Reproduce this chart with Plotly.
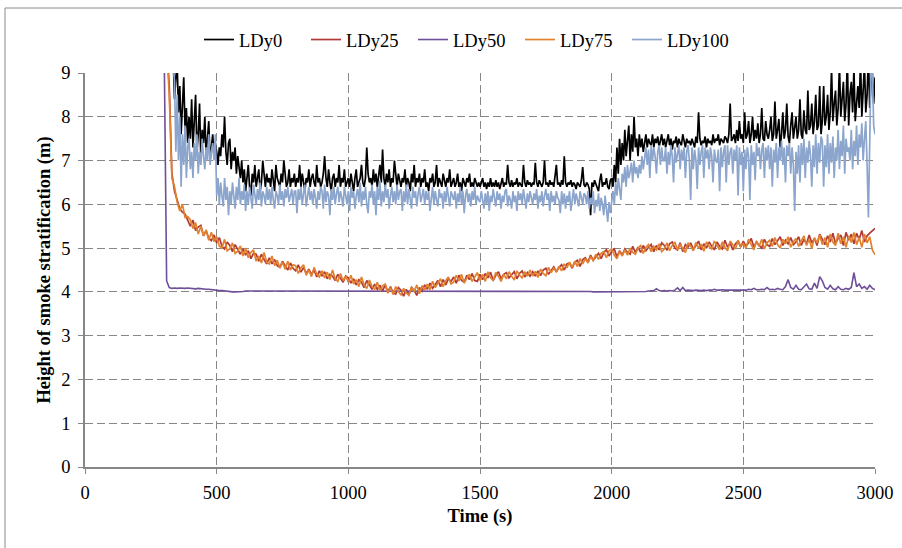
import plotly.graph_objects as go

# sample grids (s)
time_5s = list(range(300, 3001, 5))
time_10s = list(range(300, 3001, 10))

ldy0 = [
 9.9,9.9,9.8,9.8,9.7,9.6,9.5,9.3,8.4,8.9, 9.2,8.1,8.7,7.6,8.3,8.9,7.7,8.2,7.4,8.0,
 7.5,8.4,7.3,7.9,8.5,7.2,7.6,8.3,7.0,7.7, 7.4,8.0,7.1,7.5,7.9,7.0,7.3,7.6,7.1,7.4,
 7.2,6.9,7.3,7.1,7.6,7.3,8.0,7.2,6.9,7.4, 7.5,6.8,7.2,7.0,7.3,6.7,7.1,6.9,6.6,7.0,
 6.5,6.8,6.3,6.6,6.9,6.4,6.2,6.7,6.5,6.9, 6.4,6.6,6.8,6.3,6.5,7.0,6.6,6.4,6.7,6.5,
 6.6,6.4,6.8,6.5,6.3,6.9,6.6,6.5,6.4,6.7, 6.5,7.0,6.6,6.4,6.5,6.8,6.4,6.6,6.5,6.7,
 6.4,6.6,6.5,6.9,6.4,6.7,6.5,6.3,6.6,6.5, 6.8,6.4,6.6,6.7,6.5,6.4,6.9,6.5,6.6,6.4,
 6.5,6.7,7.1,6.6,6.4,6.8,6.5,6.3,6.6,6.7, 6.4,6.6,6.5,6.9,6.4,6.6,6.5,6.8,6.4,6.5,
 6.6,6.4,6.7,6.5,6.3,6.6,6.8,6.4,6.5,6.6, 6.9,6.5,6.4,6.6,7.3,6.7,6.5,6.6,6.4,6.8,
 6.5,6.7,6.4,6.6,6.9,6.5,7.25,6.6,6.4,6.7, 6.5,6.8,6.4,6.6,6.5,7.0,6.6,6.4,6.7,6.5,
 6.4,6.6,6.5,6.8,6.4,6.6,6.5,6.3,6.7,6.5, 6.9,6.4,6.6,6.5,6.7,6.4,6.6,6.5,6.8,6.4,
 6.5,6.3,6.6,6.5,6.7,6.4,6.5,6.9,6.4,6.6, 6.5,6.4,6.7,6.5,6.4,6.6,6.5,6.8,6.4,6.5,
 6.6,6.4,6.5,6.7,6.4,6.5,6.3,6.6,6.5,6.4, 6.6,6.5,6.7,6.4,6.5,6.4,6.6,6.5,6.4,6.5,
 6.4,6.5,6.6,6.4,6.5,6.35,6.5,6.4,6.6,6.4, 6.5,6.4,6.55,6.4,6.5,6.35,6.45,6.6,6.4,6.5,
 6.45,6.9,6.5,6.4,6.55,6.4,6.5,6.45,6.6,6.4, 6.5,6.45,6.4,6.9,6.5,6.4,6.55,6.45,6.5,6.4,
 6.5,6.45,6.95,6.5,6.4,6.55,6.45,6.4,6.5,7.0, 6.45,6.5,6.4,6.55,6.45,6.5,6.4,6.6,6.9,6.45,
 6.5,6.4,6.55,6.45,7.1,6.5,6.4,6.5,6.45,6.55, 6.4,6.5,6.45,6.35,6.5,6.45,6.4,6.55,6.85,6.45,
 6.4,6.5,6.45,6.35,5.75,6.5,6.4,6.55,6.45,6.4, 6.3,6.55,6.7,6.4,6.5,6.45,6.6,6.4,6.35,6.55,
 6.6,6.4,6.9,6.5,7.3,6.7,7.5,6.9,7.4,7.0, 7.7,7.1,7.5,7.8,7.0,7.6,7.2,8.0,7.3,7.5,
 7.1,7.6,7.3,7.5,7.2,7.4,7.6,7.3,7.5,7.4, 7.35,7.6,7.3,7.5,7.4,7.55,7.3,7.45,7.6,7.35,
 7.5,7.3,7.45,7.6,7.35,7.5,7.25,7.45,7.4,7.55, 7.3,7.5,7.4,7.35,7.6,7.45,7.3,7.5,7.4,7.45,
 7.35,7.5,7.4,7.3,7.55,7.4,8.1,7.5,7.35,7.45, 7.4,7.55,7.3,7.5,7.4,7.45,7.35,7.6,7.4,7.5,
 7.45,7.6,7.35,7.5,7.45,7.4,7.55,7.5,7.4,7.6, 8.3,7.45,7.5,7.6,7.4,7.7,7.45,7.9,7.5,7.6,
 7.4,8.1,7.5,7.6,7.9,7.4,7.6,8.0,7.45,7.7, 7.5,7.85,7.4,7.6,8.2,7.5,7.45,7.9,7.6,7.5,
 7.7,8.0,7.45,7.6,8.35,7.5,7.7,7.95,7.3,7.6, 8.1,7.5,7.7,8.3,7.55,7.4,7.8,8.1,7.5,7.7,
 8.0,7.5,7.7,8.4,7.6,7.5,8.15,7.7,7.6,8.6, 7.7,7.8,8.3,7.6,7.9,8.5,7.7,7.8,8.7,7.6,
 7.9,8.7,7.8,8.0,8.5,7.7,8.1,9.1,7.9,8.3, 8.6,7.8,8.2,9.2,8.0,8.4,8.8,7.9,8.3,9.3,
 7.8,8.5,8.8,8.1,9.1,7.9,8.4,8.7,8.2,9.3, 8.0,8.6,9.2,8.1,8.5,9.4,8.2,8.8,9.0,8.3,
 8.9,
]

ldy100 = [
 9.9,9.9,9.8,9.8,9.7,9.6,9.4,9.2,8.8,7.2, 8.5,7.0,8.0,6.4,7.6,6.9,7.8,6.6,7.3,7.5,
 6.8,7.2,6.6,7.4,7.0,7.6,6.7,7.2,6.9,7.5, 7.1,6.8,7.3,7.0,7.6,6.9,7.2,7.4,7.0,7.6,
 6.2,6.6,6.0,6.5,6.2,5.95,6.6,6.1,6.4,5.75, 6.3,6.0,6.5,6.2,5.9,6.4,6.1,6.6,6.0,6.3,
 6.1,6.45,5.85,6.3,6.0,6.4,6.15,5.9,6.45,6.2, 6.0,6.35,6.1,6.5,5.95,6.3,6.2,6.0,6.4,6.1,
 6.35,6.0,6.4,6.1,5.9,6.3,6.2,6.0,6.45,6.1, 6.3,5.95,6.35,6.15,6.4,6.05,6.2,6.35,6.0,6.3,
 6.3,5.8,6.35,6.1,6.4,6.0,6.25,6.45,5.95,6.2, 6.4,6.1,6.3,6.0,6.35,6.15,5.9,6.3,6.1,6.4,
 6.3,5.9,6.45,6.05,6.3,6.2,5.75,6.35,6.1,6.4, 6.0,6.25,6.4,6.05,6.3,6.15,5.95,6.4,6.2,6.0,
 6.3,5.85,6.4,6.15,6.3,5.9,6.2,6.35,6.05,6.5, 5.95,6.3,6.1,6.4,6.0,5.8,6.3,6.15,6.45,6.0,
 6.3,5.75,6.4,6.1,6.55,5.95,6.3,6.05,6.45,6.15, 6.35,5.9,6.2,6.4,6.05,6.3,6.0,6.45,6.1,6.3,
 6.35,5.85,6.3,6.05,6.45,6.0,6.35,6.1,5.9,6.4, 6.15,6.3,5.95,6.25,6.4,6.05,6.2,6.35,6.0,6.3,
 6.1,6.3,5.85,6.2,6.4,6.0,6.3,6.1,5.95,6.35, 6.15,6.25,5.9,6.3,6.05,6.4,6.1,5.95,6.3,6.2,
 6.1,6.3,5.9,6.25,6.05,6.4,6.0,6.3,5.8,6.2, 6.35,6.05,6.25,5.95,6.3,6.1,6.4,6.0,6.2,6.1,
 6.05,6.3,6.1,5.9,6.25,6.0,6.3,5.85,6.2,6.05, 6.35,6.15,5.95,6.3,6.1,6.25,5.9,6.2,6.05,6.3,
 6.35,5.95,6.2,6.1,5.9,6.3,6.05,6.2,5.85,6.3, 6.1,6.25,6.0,6.35,6.15,5.9,6.25,6.05,6.3,6.1,
 6.0,6.25,6.1,6.35,5.9,6.2,6.05,6.3,5.95,6.2, 6.35,6.1,6.25,5.85,6.3,6.05,6.2,6.0,6.3,6.15,
 6.1,5.8,6.3,6.0,6.25,5.9,6.2,6.05,6.3,5.85, 6.2,6.35,6.0,6.25,6.1,5.95,6.3,6.15,6.0,6.25,
 6.2,6.0,6.3,5.9,6.15,6.0,6.3,5.8,6.1,5.95, 6.25,5.85,6.15,6.0,5.75,6.2,5.9,5.6,6.05,5.8,
 6.05,6.3,6.0,6.5,6.2,6.6,6.35,6.1,6.7,6.5, 6.85,6.4,6.9,6.6,6.75,6.95,6.5,7.0,6.7,6.85,
 6.6,6.9,6.7,7.1,6.8,7.0,7.3,6.9,7.25,6.6, 7.35,7.0,7.3,7.1,6.7,7.2,7.35,6.9,7.3,7.0,
 7.0,7.3,6.7,7.2,6.9,7.35,7.1,6.5,7.3,6.95, 7.2,7.35,6.8,7.25,7.0,7.3,6.6,7.2,7.35,7.0,
 6.1,7.3,6.8,7.25,7.0,6.35,7.3,6.9,7.2,7.35, 6.6,7.3,7.05,7.25,6.8,7.3,7.1,6.5,7.25,7.0,
 6.95,7.25,6.3,7.3,6.85,7.2,7.35,6.5,7.35,6.9, 7.2,7.3,6.7,7.25,7.0,7.35,6.2,7.3,6.9,7.2,
 6.3,7.25,6.8,7.3,7.1,6.1,7.35,6.9,7.2,6.55, 7.4,7.1,7.3,6.8,7.25,7.4,6.6,7.3,7.0,7.35,
 6.8,7.3,6.4,7.25,6.95,7.4,6.6,7.3,7.0,7.45, 6.9,7.3,6.5,7.35,7.1,7.4,6.7,7.3,6.9,5.85,
 7.2,6.7,7.35,6.5,7.4,6.9,7.5,6.6,7.3,6.95, 7.45,7.1,6.4,7.35,6.85,7.6,6.7,7.4,6.95,7.55,
 7.45,6.4,7.35,6.85,7.6,6.7,7.4,6.95,7.55,6.6, 7.3,7.0,7.7,6.8,7.45,7.1,7.8,6.7,7.5,7.2,
 7.3,7.0,7.7,6.8,7.45,7.1,7.8,6.9,7.6,7.3, 7.85,7.0,7.5,7.9,6.9,5.7,7.4,9.2,9.1,7.8,
 7.6,
]

ldy25 = [
 9.9,9.7,8.7,6.7,6.3,6.1,5.9,5.82,5.78,5.64,
 5.5,5.64,5.4,5.48,5.52,5.28,5.4,5.22,5.17,5.3,
 5.12,5.24,5.04,4.98,5.14,5.06,4.92,5.08,4.96,4.86,
 4.98,4.84,4.94,4.76,4.88,4.86,4.7,4.86,4.74,4.64,
 4.78,4.64,4.74,4.6,4.56,4.7,4.6,4.5,4.66,4.54,
 4.48,4.62,4.45,4.56,4.42,4.52,4.4,4.5,4.34,4.48,
 4.36,4.46,4.3,4.4,4.36,4.26,4.4,4.3,4.22,4.36,
 4.32,4.2,4.3,4.16,4.28,4.22,4.1,4.26,4.16,4.06,
 4.18,4.06,4.15,4.02,4.16,4.0,4.12,3.98,3.95,4.1,
 4.04,3.9,4.06,3.94,4.1,4.04,3.92,4.1,4.02,4.16,
 4.06,4.2,4.08,4.16,4.26,4.12,4.28,4.16,4.3,4.24,
 4.34,4.2,4.38,4.26,4.22,4.38,4.28,4.42,4.26,4.24,
 4.4,4.28,4.42,4.32,4.45,4.26,4.38,4.46,4.3,4.4,
 4.44,4.32,4.4,4.46,4.3,4.42,4.48,4.34,4.44,4.36,
 4.46,4.36,4.48,4.37,4.5,4.54,4.4,4.5,4.57,4.46,
 4.56,4.62,4.5,4.64,4.66,4.54,4.68,4.72,4.58,4.74,
 4.78,4.68,4.84,4.72,4.8,4.88,4.76,4.9,4.96,4.82,
 4.92,4.98,4.8,4.94,4.84,4.98,4.9,4.86,5.04,4.9,
 5.02,4.9,5.06,4.94,5.02,5.08,4.92,5.06,4.96,5.12,
 5.06,4.95,5.1,5.14,5.0,4.96,5.12,4.92,5.08,5.02,
 5.12,4.97,5.06,5.16,4.96,5.1,5.0,5.14,5.04,4.96,
 5.14,5.04,4.98,5.18,5.02,5.12,4.96,5.1,5.16,5.02,
 5.16,5.04,5.12,5.22,5.02,5.14,5.06,5.0,5.2,5.08,
 5.04,5.22,5.08,5.16,5.26,5.06,5.18,5.1,5.24,5.08,
 5.14,5.26,5.06,5.2,5.1,5.3,5.12,5.22,5.06,5.32,
 5.2,5.08,5.28,5.14,5.34,5.1,5.22,5.3,5.06,5.36,
 5.18,5.32,5.1,5.34,5.2,5.4,5.14,5.28,5.34,5.4,
 5.45,
]

ldy50 = [
 9.9,4.25,4.1,4.08,4.09,4.08,4.09,4.08,4.08,4.09,
 4.08,4.08,4.07,4.08,4.07,4.07,4.06,4.06,4.05,4.05,
 4.04,4.03,4.03,4.02,4.01,4.01,4.0,4.0,4.0,4.01,
 4.01,4.02,4.02,4.02,4.02,4.02,4.02,4.02,4.02,4.02,
 4.02,4.02,4.02,4.02,4.02,4.02,4.02,4.02,4.02,4.02,
 4.02,4.02,4.02,4.02,4.02,4.02,4.02,4.02,4.02,4.02,
 4.02,4.02,4.02,4.02,4.02,4.02,4.02,4.02,4.02,4.02,
 4.02,4.02,4.02,4.02,4.02,4.02,4.02,4.02,4.02,4.02,
 4.02,4.02,4.02,4.02,4.02,4.02,4.02,4.02,4.02,4.02,
 4.02,4.02,4.02,4.02,4.02,4.02,4.02,4.02,4.02,4.02,
 4.02,4.02,4.02,4.02,4.02,4.02,4.02,4.02,4.02,4.02,
 4.02,4.02,4.02,4.02,4.02,4.02,4.02,4.02,4.02,4.02,
 4.02,4.02,4.02,4.02,4.02,4.02,4.02,4.02,4.02,4.02,
 4.02,4.02,4.02,4.02,4.02,4.02,4.02,4.02,4.02,4.02,
 4.02,4.02,4.02,4.02,4.02,4.02,4.02,4.02,4.02,4.02,
 4.02,4.02,4.02,4.02,4.02,4.02,4.02,4.02,4.02,4.02,
 4.02,4.02,4.01,4.0,4.0,4.0,4.0,4.0,4.0,4.0,
 4.0,4.0,4.0,4.0,4.0,4.0,4.0,4.0,4.0,4.0,
 4.0,4.0,4.0,4.01,4.02,4.02,4.03,4.07,4.03,4.02,
 4.03,4.02,4.03,4.02,4.04,4.09,4.03,4.1,4.03,4.04,
 4.03,4.03,4.04,4.03,4.03,4.04,4.03,4.04,4.04,4.06,
 4.04,4.04,4.05,4.04,4.04,4.05,4.04,4.05,4.04,4.05,
 4.05,4.04,4.06,4.05,4.08,4.05,4.05,4.06,4.05,4.1,
 4.05,4.06,4.05,4.08,4.06,4.05,4.12,4.28,4.1,4.06,
 4.15,4.06,4.05,4.12,4.18,4.07,4.06,4.2,4.08,4.35,
 4.25,4.1,4.06,4.15,4.07,4.05,4.12,4.06,4.05,4.08,
 4.06,4.1,4.44,4.12,4.18,4.08,4.12,4.06,4.15,4.08,
 4.05,
]

ldy75 = [
 9.9,9.6,8.5,6.6,6.4,6.05,5.85,6.0,5.7,5.72,
 5.65,5.45,5.58,5.32,5.5,5.28,5.42,5.18,5.36,5.15,
 5.26,5.05,5.0,5.2,4.94,4.98,5.12,4.88,4.93,5.05,
 4.82,5.0,4.78,4.9,4.96,4.7,4.82,4.66,4.9,4.68,
 4.64,4.82,4.6,4.72,4.55,4.68,4.52,4.7,4.5,4.62,
 4.6,4.42,4.55,4.62,4.38,4.5,4.35,4.56,4.4,4.34,
 4.48,4.32,4.45,4.28,4.5,4.3,4.24,4.42,4.26,4.36,
 4.22,4.38,4.18,4.28,4.12,4.34,4.16,4.08,4.27,4.12,
 4.06,4.22,4.02,4.14,4.18,3.97,4.1,3.94,4.12,4.0,
 3.93,4.08,3.98,3.92,4.12,4.0,4.16,3.96,4.14,4.04,
 4.18,4.05,4.24,4.1,4.2,4.3,4.12,4.26,4.34,4.18,
 4.22,4.38,4.25,4.4,4.2,4.32,4.4,4.24,4.34,4.44,
 4.26,4.4,4.24,4.46,4.32,4.26,4.44,4.36,4.24,4.4,
 4.3,4.46,4.36,4.27,4.48,4.38,4.32,4.46,4.36,4.5,
 4.36,4.47,4.33,4.52,4.42,4.37,4.56,4.44,4.54,4.46,
 4.58,4.48,4.64,4.55,4.68,4.56,4.7,4.58,4.76,4.64,
 4.76,4.66,4.8,4.72,4.86,4.74,4.88,4.92,4.78,4.94,
 4.98,4.84,4.76,4.92,4.82,4.96,4.84,5.0,4.9,4.86,
 5.0,5.06,4.88,5.02,5.08,4.92,5.04,4.96,5.1,4.92,
 4.98,5.12,4.94,5.06,5.14,4.96,5.08,5.0,4.9,5.12,
 5.05,4.94,5.13,5.0,5.09,4.93,5.14,5.04,4.98,5.16,
 5.06,4.96,5.14,5.02,4.94,5.16,5.08,4.98,5.18,5.04,
 5.1,5.0,5.2,5.06,4.96,5.16,5.04,5.2,4.98,5.12,
 5.18,5.04,5.24,5.08,5.0,5.2,5.1,5.26,5.02,5.14,
 5.22,5.04,5.16,5.28,5.06,5.2,4.99,5.24,5.12,5.3,
 5.08,5.24,5.02,5.32,5.14,5.06,5.34,5.1,5.26,5.02,
 5.28,5.13,5.36,5.08,5.24,5.02,5.32,5.12,5.26,4.96,
 4.85,
]

series_names = ["LDy0", "LDy25", "LDy50", "LDy75", "LDy100"]
series_x = [time_5s, time_10s, time_10s, time_10s, time_5s]
series_values = [ldy0, ldy25, ldy50, ldy75, ldy100]
series_colors = ["#000000", "#B03A36", "#6F4F98", "#E2812E", "#8CA5CD"]
series_widths = [1.7, 1.7, 1.6, 1.7, 1.7]

x_ticks = [0, 500, 1000, 1500, 2000, 2500, 3000]
y_ticks = [0, 1, 2, 3, 4, 5, 6, 7, 8, 9]

FONT = "Liberation Serif, Times New Roman, serif"
FS = 18.5
GRID = "#878787"
AXIS = "#878787"

W, H = 902, 548
px_l, px_r, px_t, px_b = 85, 875, 73, 467

def px_to_paper_x(p):
    return (p - px_l) / (px_r - px_l)

def px_to_paper_y(p):
    return (px_b - p) / (px_b - px_t)

fig = go.Figure()
for name, xs, vals, col, lw in zip(series_names, series_x, series_values, series_colors, series_widths):
    fig.add_trace(go.Scatter(x=xs, y=vals, mode="lines", name=name,
                             line=dict(color=col, width=lw)))

# outer chart border
fig.add_shape(type="rect", xref="paper", yref="paper",
              x0=px_to_paper_x(5), x1=px_to_paper_x(915),
              y0=px_to_paper_y(565), y1=px_to_paper_y(8),
              line=dict(color="#8A8A8A", width=1), layer="below")

fig.update_layout(
    width=W, height=H,
    margin=dict(l=px_l, r=W - px_r, t=px_t, b=H - px_b, autoexpand=False),
    paper_bgcolor="white", plot_bgcolor="white",
    font=dict(family=FONT, size=FS, color="black"),
    showlegend=True,
    legend=dict(orientation="h", x=px_to_paper_x(199), xanchor="left",
                y=px_to_paper_y(40), yanchor="middle",
                font=dict(family=FONT, size=FS), itemwidth=30,
                entrywidth=62, entrywidthmode="pixels",
                bgcolor="rgba(0,0,0,0)", traceorder="normal"),
)
fig.update_xaxes(range=[0, 3000], tickvals=x_ticks, ticktext=[str(v) for v in x_ticks],
                 showgrid=True, gridcolor=GRID, griddash="8px,4px", gridwidth=1.4,
                 showline=True, linecolor=AXIS, linewidth=1.5,
                 ticks="outside", ticklen=5, tickcolor=AXIS, tickwidth=1.3,
                 ticklabelstandoff=3, automargin=False,
                 zeroline=False,
                 tickfont=dict(family=FONT, size=FS, color="black"),
                 title=dict(text="<b>Time (s)</b>", font=dict(family=FONT, size=FS), standoff=7))
fig.update_yaxes(range=[0, 9], tickvals=y_ticks, ticktext=[str(v) for v in y_ticks],
                 showgrid=True, gridcolor=GRID, griddash="8px,4px", gridwidth=1.4,
                 showline=True, linecolor=AXIS, linewidth=1.5,
                 ticks="outside", ticklen=5, tickcolor=AXIS, tickwidth=1.3,
                 ticklabelstandoff=4, automargin=False,
                 zeroline=False,
                 tickfont=dict(family=FONT, size=FS, color="black"),
                 title=dict(text="<b>Height of smoke stratification (m)</b>",
                            font=dict(family=FONT, size=FS), standoff=6))

fig.write_html("out.html", config={"displayModeBar": False},
               post_script="document.body.style.margin='0px';")
